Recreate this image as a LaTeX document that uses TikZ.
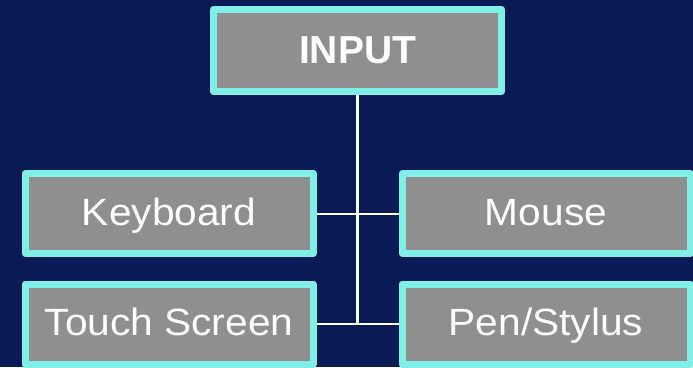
\documentclass[tikz,border=0pt]{standalone}
\usepackage{fontspec}
\setmainfont{Liberation Sans}
\newfontfamily\itemfont[FakeStretch=1.07]{Liberation Sans}
\definecolor{navy}{HTML}{0A1A55}
\definecolor{boxgray}{HTML}{8F8F8F}
\definecolor{boxrim}{HTML}{80F0E6}
\tikzset{
  item/.style={draw=boxrim,fill=boxgray,line width=7pt,line join=round,
    minimum width=288pt,minimum height=80pt,inner sep=0pt,text=white,
    text height=27pt,text depth=4pt,font=\itemfont\fontsize{38}{40}\selectfont},
  head/.style={item,minimum height=82pt,text height=28pt,text depth=2pt,
    font=\bfseries\fontsize{39}{41}\selectfont},
  link/.style={white,line width=2pt}
}
\begin{document}
\begin{tikzpicture}[x=1pt,y=-1pt]
\fill[navy] (0,0) rectangle (693,367);
\useasboundingbox (0,0) rectangle (693,367);
% boxes
\node[head] (input) at (357.5,50.5) {INPUT};
\node[item] (kb) at (169,213.5) {Keyboard};
\node[item] (mouse) at (546,213.5) {Mouse};
\node[item] (ts) at (169,324) {Touch Screen};
\node[item] (pen) at (546,324) {Pen/Stylus};
% links
\draw[link,line width=3pt] (input.south) -- (input.south |- ts.east);
\draw[link] (kb.east) -- (mouse.west);
\draw[link] (ts.east) -- (pen.west);
\end{tikzpicture}
\end{document}
